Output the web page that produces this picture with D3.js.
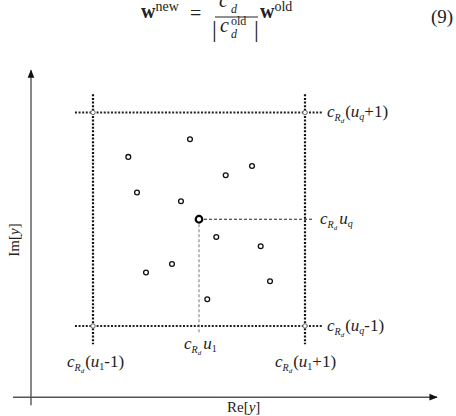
<!DOCTYPE html>
<html>
<head>
<meta charset="utf-8">
<script src="https://cdn.jsdelivr.net/npm/d3@7"></script>
<style>
  body { margin: 0; background: #fff; }
  text { font-family: "Liberation Serif", "DejaVu Serif", serif; fill: #222; }
</style>
</head>
<body>
<div id="chart"></div>
<script>
// points in units of c_Rd, relative to the decision point (u1, uq)
var ptRe = [-0.085, -0.667, 0.50, 0.252, -0.585, -0.170, 0.163, 0.582, -0.255, -0.50, 0.670, 0.078];
var ptIm = [0.749, 0.584, 0.499, 0.412, 0.250, 0.169, -0.166, -0.253, -0.419, -0.499, -0.581, -0.749];
var center = [0, 0];
var gridRe = [-1, 1];
var gridIm = [-1, 1];
var gridSpan = [-1.17, 1.17];
var axisReSpan = [-1.755, 2.245];
var axisImSpan = [-1.742, 1.396];
var axisCross = [-1.585, -1.667];

var svgWidth = 456;
var svgHeight = 416;

var svg = d3.select("#chart")
  .append("svg")
  .attr("width", svgWidth)
  .attr("height", svgHeight);

var x = d3.scaleLinear().domain([-1, 1]).range([93, 305]);
var y = d3.scaleLinear().domain([-1, 1]).range([326, 112.5]);

// arrow head
svg.append("defs").append("marker")
  .attr("id", "arr")
  .attr("viewBox", "0 0 10 10")
  .attr("refX", 9).attr("refY", 5)
  .attr("markerWidth", 6).attr("markerHeight", 6)
  .attr("orient", "auto")
  .append("path")
  .attr("d", "M0,1 L10,5 L0,9 Z")
  .attr("fill", "#111");

// axes
svg.append("line")
  .attr("x1", x(axisReSpan[0])).attr("x2", x(axisReSpan[1]))
  .attr("y1", y(axisCross[1])).attr("y2", y(axisCross[1]))
  .attr("stroke", "#555").attr("stroke-width", 1.4)
  .attr("marker-end", "url(#arr)");
svg.append("line")
  .attr("x1", x(axisCross[0])).attr("x2", x(axisCross[0]))
  .attr("y1", y(axisImSpan[0])).attr("y2", y(axisImSpan[1]))
  .attr("stroke", "#555").attr("stroke-width", 1.4)
  .attr("marker-end", "url(#arr)");

// dotted decision boundaries
svg.selectAll(".vgrid")
  .data(gridRe)
  .enter()
  .append("line")
  .attr("class", "vgrid")
  .attr("x1", d => x(d)).attr("x2", d => x(d))
  .attr("y1", y(gridSpan[1])).attr("y2", y(gridSpan[0]))
  .attr("stroke", "#111").attr("stroke-width", 2.2)
  .attr("stroke-dasharray", "2,1.6");
svg.selectAll(".hgrid")
  .data(gridIm)
  .enter()
  .append("line")
  .attr("class", "hgrid")
  .attr("x1", x(gridSpan[0])).attr("x2", x(gridSpan[1]))
  .attr("y1", d => y(d)).attr("y2", d => y(d))
  .attr("stroke", "#222").attr("stroke-width", 2)
  .attr("stroke-dasharray", "2,1.6");

// corner circles
var corners = [];
gridRe.forEach(a => gridIm.forEach(b => corners.push([a, b])));
svg.selectAll(".corner")
  .data(corners)
  .enter()
  .append("circle")
  .attr("cx", d => x(d[0])).attr("cy", d => y(d[1]))
  .attr("r", 2.2)
  .attr("fill", "#fff").attr("stroke", "#666").attr("stroke-width", 1);

// dashed projections from the decided point
svg.append("line")
  .attr("x1", x(center[0])).attr("x2", x(1.075))
  .attr("y1", y(center[1])).attr("y2", y(center[1]))
  .attr("stroke", "#222").attr("stroke-width", 1)
  .attr("stroke-dasharray", "3,2");
svg.append("line")
  .attr("x1", x(center[0])).attr("x2", x(center[0]))
  .attr("y1", y(center[1])).attr("y2", y(-1.077))
  .attr("stroke", "#555").attr("stroke-width", 0.8)
  .attr("stroke-dasharray", "3,2");

// received samples
svg.selectAll(".pt")
  .data(ptRe)
  .enter()
  .append("circle")
  .attr("class", "pt")
  .attr("cx", d => x(d))
  .attr("cy", (d, i) => y(ptIm[i]))
  .attr("r", 2.4)
  .attr("fill", "#fff").attr("stroke", "#111").attr("stroke-width", 1.3);

svg.append("circle")
  .attr("cx", x(center[0])).attr("cy", y(center[1]))
  .attr("r", 3.3)
  .attr("fill", "#fff").attr("stroke", "#000").attr("stroke-width", 2.2);

// rich text helper
function rich(x0, y0, parts) {
  var t = svg.append("text").attr("x", x0).attr("y", y0);
  parts.forEach(p => {
    t.append("tspan")
      .attr("dy", p.dy || 0)
      .attr("dx", p.dx || 0)
      .attr("font-size", p.s || 17)
      .attr("font-style", p.i ? "italic" : "normal")
      .attr("font-weight", p.b ? "bold" : "normal")
      .text(p.t);
  });
  return t;
}

function cRd(rest) {
  return [
    { t: "c", i: true, s: 17 },
    { t: "R", i: true, s: 10, dy: 4 },
    { t: "d", i: true, s: 7, dy: 2 }
  ].concat(rest);
}

// boundary labels
rich(327, 117, cRd([{ t: "(", dy: -6, dx: 1 }, { t: "u", i: true }, { t: "q", i: true, s: 10, dy: 3 }, { t: "+1)", dy: -3 }]));
rich(320, 224, cRd([{ t: "u", i: true, dy: -6, dx: 2 }, { t: "q", i: true, s: 10, dy: 3 }]));
rich(327, 331, cRd([{ t: "(", dy: -6, dx: 1 }, { t: "u", i: true }, { t: "q", i: true, s: 10, dy: 3 }, { t: "-1)", dy: -3 }]));
rich(184, 349, cRd([{ t: "u", i: true, dy: -6, dx: 2 }, { t: "1", s: 10, dy: 3 }]));
rich(67, 367, cRd([{ t: "(", dy: -6, dx: 1 }, { t: "u", i: true }, { t: "1", s: 10, dy: 3 }, { t: "-1)", dy: -3 }]));
rich(275, 367, cRd([{ t: "(", dy: -6, dx: 1 }, { t: "u", i: true }, { t: "1", s: 10, dy: 3 }, { t: "+1)", dy: -3 }]));

// axis labels
rich(227, 412, [{ t: "Re[", s: 15 }, { t: "y", i: true, s: 15 }, { t: "]", s: 15 }]);
rich(0, 0, [{ t: "Im[", s: 15 }, { t: "y", i: true, s: 15 }, { t: "]", s: 15 }])
  .attr("text-anchor", "middle")
  .attr("transform", "translate(19,240) rotate(-90)");

// equation (9)
rich(141, 18, [{ t: "w", b: true, s: 20 }, { t: "new", s: 14, dy: -7 }]);
rich(190, 20, [{ t: "=", s: 20 }]);
svg.append("line")
  .attr("x1", 215).attr("x2", 258).attr("y1", 17).attr("y2", 17)
  .attr("stroke", "#222").attr("stroke-width", 1);
rich(219, 7, [{ t: "c", i: true, s: 20 }, { t: "old", s: 13, dy: -9 }]);
rich(231, 13, [{ t: "d", i: true, s: 12 }]);
rich(212, 37, [{ t: "|", s: 24 }]);
rich(220, 32, [{ t: "c", i: true, s: 20 }]);
rich(231, 25, [{ t: "old", s: 12 }]);
rich(231, 38, [{ t: "d", i: true, s: 12 }]);
rich(254, 37, [{ t: "|", s: 24 }]);
rich(260, 18, [{ t: "w", b: true, s: 20 }, { t: "old", s: 14, dy: -7 }]);
rich(431, 23, [{ t: "(9)", s: 19 }]);
</script>
</body>
</html>
